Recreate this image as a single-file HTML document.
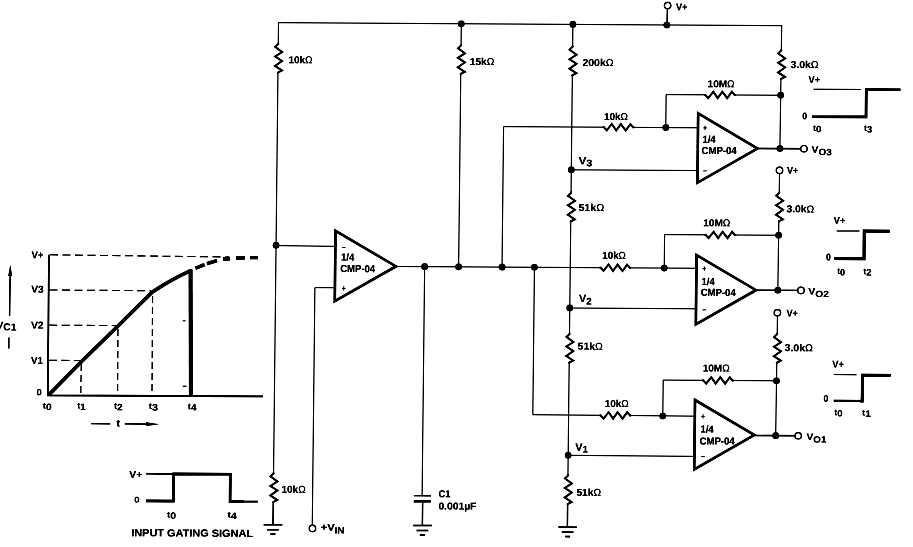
<!DOCTYPE html>
<html lang="en">
<head>
<meta charset="utf-8">
<title>Voltage level detector timing circuit (CMP-04)</title>
<style>
html,body{margin:0;padding:0;background:#fff;}
body{width:913px;height:547px;overflow:hidden;}
svg{display:block;}
text{font-family:"Liberation Sans",sans-serif;fill:#111;stroke:none;}
</style>
</head>
<body>
<svg width="913" height="547" viewBox="0 0 913 547">
<rect width="913" height="547" fill="#fff"/>
<defs><filter id="scan" x="0" y="0" width="913" height="547" filterUnits="userSpaceOnUse" color-interpolation-filters="sRGB"><feGaussianBlur stdDeviation="0.5"/><feComponentTransfer><feFuncR type="linear" slope="1.7" intercept="-0.7"/><feFuncG type="linear" slope="1.7" intercept="-0.7"/><feFuncB type="linear" slope="1.7" intercept="-0.7"/></feComponentTransfer></filter></defs>
<g filter="url(#scan)"><rect width="913" height="547" fill="#fff"/>
<g transform="matrix(1 0.006 -0.011 1 2.970 -2.700)" fill="none" stroke="#111">
<g>
<line x1="275.20" y1="23.70" x2="779.50" y2="23.70" stroke-width="0.85" stroke-linecap="butt"/>
<line x1="275.80" y1="23.70" x2="275.80" y2="45.00" stroke-width="0.85" stroke-linecap="butt"/>
<polyline points="275.80,44.00 275.80,45.00 272.80,48.00 279.80,53.00 272.80,57.50 279.80,62.00 272.80,67.00 279.80,71.50 275.80,73.50 275.80,74.50" stroke-width="1.8" stroke-linejoin="miter" stroke-linecap="butt" />
<line x1="275.80" y1="74.50" x2="275.80" y2="474.50" stroke-width="0.85" stroke-linecap="butt"/>
<polyline points="275.80,473.50 275.80,474.50 272.80,477.50 279.80,482.50 272.80,487.00 279.80,491.50 272.80,496.50 279.80,501.00 275.80,503.00 275.80,504.00" stroke-width="1.8" stroke-linejoin="miter" stroke-linecap="butt" />
<line x1="275.80" y1="504.00" x2="275.80" y2="525.80" stroke-width="1.3" stroke-linecap="butt"/>
<line x1="266.50" y1="525.80" x2="285.10" y2="525.80" stroke-width="1.5" stroke-linecap="butt"/>
<line x1="270.00" y1="530.80" x2="281.60" y2="530.80" stroke-width="1.5" stroke-linecap="butt"/>
<line x1="273.30" y1="535.20" x2="278.30" y2="535.20" stroke-width="1.7" stroke-linecap="butt"/>
<line x1="275.80" y1="246.60" x2="335.50" y2="247.10" stroke-width="0.85" stroke-linecap="butt"/>
<circle cx="275.80" cy="246.30" r="3.3" fill="#111" stroke="none"/>
<polygon points="333.90,229.50 398.40,266.70 333.90,303.90" fill="#111" stroke="none"/>
<polygon points="336.35,233.74 393.50,266.70 336.35,299.66" fill="#fff" stroke="none"/>
<line x1="396.00" y1="266.80" x2="602.00" y2="266.80" stroke-width="0.85" stroke-linecap="butt"/>
<polyline points="599.50,266.80 600.50,266.80 603.50,270.00 608.50,263.60 613.00,270.00 617.50,263.60 622.50,270.00 627.00,263.60 630.00,266.80 631.00,266.80" stroke-width="1.8" stroke-linejoin="miter" stroke-linecap="butt" />
<line x1="631.00" y1="266.80" x2="696.00" y2="266.80" stroke-width="0.85" stroke-linecap="butt"/>
<polyline points="335.50,288.40 315.10,288.40 315.10,526.30" stroke-width="0.85" stroke-linejoin="miter" stroke-linecap="butt" />
<circle cx="315.30" cy="529.20" r="3.2" fill="#fff" stroke-width="1.2"/>
<circle cx="424.60" cy="266.80" r="3.3" fill="#111" stroke="none"/>
<line x1="424.60" y1="266.80" x2="424.60" y2="495.50" stroke-width="0.85" stroke-linecap="butt"/>
<line x1="416.40" y1="495.80" x2="433.30" y2="495.80" stroke-width="1.4" stroke-linecap="butt"/>
<line x1="416.40" y1="501.40" x2="433.30" y2="501.40" stroke-width="2.5" stroke-linecap="butt"/>
<line x1="425.20" y1="500.90" x2="425.20" y2="525.60" stroke-width="1.3" stroke-linecap="butt"/>
<line x1="416.00" y1="525.60" x2="434.60" y2="525.60" stroke-width="1.5" stroke-linecap="butt"/>
<line x1="419.50" y1="530.60" x2="431.10" y2="530.60" stroke-width="1.5" stroke-linecap="butt"/>
<line x1="422.80" y1="535.00" x2="427.80" y2="535.00" stroke-width="1.7" stroke-linecap="butt"/>
<circle cx="458.60" cy="23.70" r="3.3" fill="#111" stroke="none"/>
<line x1="458.60" y1="23.70" x2="458.60" y2="45.30" stroke-width="0.85" stroke-linecap="butt"/>
<polyline points="458.60,44.30 458.60,45.30 455.60,48.30 462.60,53.30 455.60,57.80 462.60,62.30 455.60,67.30 462.60,71.80 458.60,73.80 458.60,74.80" stroke-width="1.8" stroke-linejoin="miter" stroke-linecap="butt" />
<line x1="458.60" y1="74.30" x2="458.60" y2="266.80" stroke-width="0.85" stroke-linecap="butt"/>
<circle cx="458.60" cy="266.80" r="3.3" fill="#111" stroke="none"/>
<circle cx="570.20" cy="23.70" r="3.3" fill="#111" stroke="none"/>
<line x1="570.20" y1="23.70" x2="570.20" y2="46.00" stroke-width="0.85" stroke-linecap="butt"/>
<polyline points="570.20,45.00 570.20,46.00 567.20,49.00 574.20,54.00 567.20,58.50 574.20,63.00 567.20,68.00 574.20,72.50 570.20,74.50 570.20,75.50" stroke-width="1.8" stroke-linejoin="miter" stroke-linecap="butt" />
<line x1="570.20" y1="75.00" x2="570.20" y2="192.10" stroke-width="0.85" stroke-linecap="butt"/>
<polyline points="570.20,191.10 570.20,192.10 567.20,195.10 574.20,200.10 567.20,204.60 574.20,209.10 567.20,214.10 574.20,218.60 570.20,220.60 570.20,221.60" stroke-width="1.8" stroke-linejoin="miter" stroke-linecap="butt" />
<line x1="570.20" y1="221.00" x2="570.20" y2="333.30" stroke-width="0.85" stroke-linecap="butt"/>
<polyline points="570.20,332.30 570.20,333.30 567.20,336.30 574.20,341.30 567.20,345.80 574.20,350.30 567.20,355.30 574.20,359.80 570.20,361.80 570.20,362.80" stroke-width="1.8" stroke-linejoin="miter" stroke-linecap="butt" />
<line x1="570.20" y1="362.00" x2="570.20" y2="474.80" stroke-width="0.85" stroke-linecap="butt"/>
<polyline points="570.20,473.80 570.20,474.80 567.20,477.80 574.20,482.80 567.20,487.30 574.20,491.80 567.20,496.80 574.20,501.30 570.20,503.30 570.20,504.30" stroke-width="1.8" stroke-linejoin="miter" stroke-linecap="butt" />
<line x1="570.20" y1="504.00" x2="570.20" y2="526.40" stroke-width="1.3" stroke-linecap="butt"/>
<line x1="561.20" y1="526.40" x2="579.80" y2="526.40" stroke-width="1.5" stroke-linecap="butt"/>
<line x1="564.70" y1="531.40" x2="576.30" y2="531.40" stroke-width="1.5" stroke-linecap="butt"/>
<line x1="568.00" y1="535.80" x2="573.00" y2="535.80" stroke-width="1.7" stroke-linecap="butt"/>
<circle cx="570.20" cy="169.10" r="3.3" fill="#111" stroke="none"/>
<circle cx="570.20" cy="307.20" r="3.3" fill="#111" stroke="none"/>
<circle cx="570.20" cy="454.60" r="3.3" fill="#111" stroke="none"/>
<line x1="570.20" y1="169.10" x2="696.00" y2="169.10" stroke-width="0.85" stroke-linecap="butt"/>
<line x1="570.20" y1="307.30" x2="696.00" y2="307.30" stroke-width="0.85" stroke-linecap="butt"/>
<line x1="570.20" y1="454.60" x2="696.00" y2="454.90" stroke-width="0.85" stroke-linecap="butt"/>
<circle cx="502.00" cy="266.80" r="3.3" fill="#111" stroke="none"/>
<circle cx="534.40" cy="266.80" r="3.3" fill="#111" stroke="none"/>
<polyline points="502.00,266.80 502.00,126.30 603.00,126.30" stroke-width="0.85" stroke-linejoin="miter" stroke-linecap="butt" />
<polyline points="601.20,126.30 602.20,126.30 605.20,129.50 610.20,123.10 614.70,129.50 619.20,123.10 624.20,129.50 628.70,123.10 631.70,126.30 632.70,126.30" stroke-width="1.8" stroke-linejoin="miter" stroke-linecap="butt" />
<line x1="632.00" y1="126.30" x2="696.00" y2="126.30" stroke-width="0.85" stroke-linecap="butt"/>
<polyline points="534.40,266.80 534.40,414.20 603.00,414.40" stroke-width="0.85" stroke-linejoin="miter" stroke-linecap="butt" />
<polyline points="601.20,414.40 602.20,414.40 605.20,417.60 610.20,411.20 614.70,417.60 619.20,411.20 624.20,417.60 628.70,411.20 631.70,414.40 632.70,414.40" stroke-width="1.8" stroke-linejoin="miter" stroke-linecap="butt" />
<line x1="632.00" y1="414.40" x2="696.00" y2="414.70" stroke-width="0.85" stroke-linecap="butt"/>
<line x1="664.50" y1="7.00" x2="664.20" y2="23.70" stroke-width="1.15" stroke-linecap="butt"/>
<circle cx="664.70" cy="4.30" r="3.2" fill="#fff" stroke-width="1.2"/>
<circle cx="664.20" cy="23.70" r="3.3" fill="#111" stroke="none"/>
<polygon points="695.20,109.80 758.60,146.60 695.20,183.40" fill="#111" stroke="none"/>
<polygon points="697.65,114.05 753.72,146.60 697.65,179.15" fill="#fff" stroke="none"/>
<polyline points="664.20,126.30 664.20,93.30 704.30,93.30" stroke-width="0.85" stroke-linejoin="miter" stroke-linecap="butt" />
<polyline points="702.30,93.30 703.30,93.30 706.30,96.50 711.30,90.10 715.80,96.50 720.30,90.10 725.30,96.50 729.80,90.10 732.80,93.30 733.80,93.30" stroke-width="1.8" stroke-linejoin="miter" stroke-linecap="butt" />
<line x1="734.00" y1="93.30" x2="778.75" y2="93.30" stroke-width="0.85" stroke-linecap="butt"/>
<circle cx="664.20" cy="126.30" r="3.3" fill="#111" stroke="none"/>
<circle cx="778.75" cy="93.30" r="3.3" fill="#111" stroke="none"/>
<line x1="779.00" y1="23.70" x2="778.91" y2="48.40" stroke-width="0.85" stroke-linecap="butt"/>
<polyline points="778.86,47.40 778.86,48.40 775.86,51.40 782.86,56.40 775.86,60.90 782.86,65.40 775.86,70.40 782.86,74.90 778.86,76.90 778.86,77.90" stroke-width="1.8" stroke-linejoin="miter" stroke-linecap="butt" />
<line x1="778.81" y1="77.40" x2="778.55" y2="146.60" stroke-width="0.85" stroke-linecap="butt"/>
<line x1="757.00" y1="146.60" x2="800.10" y2="146.60" stroke-width="1.4" stroke-linecap="butt"/>
<circle cx="778.55" cy="146.60" r="3.3" fill="#111" stroke="none"/>
<circle cx="802.60" cy="146.60" r="3.2" fill="#fff" stroke-width="1.2"/>
<polygon points="695.20,251.50 758.60,288.30 695.20,325.10" fill="#111" stroke="none"/>
<polygon points="697.65,255.75 753.72,288.30 697.65,320.85" fill="#fff" stroke="none"/>
<polyline points="664.20,266.80 664.20,233.30 706.20,233.30" stroke-width="0.85" stroke-linejoin="miter" stroke-linecap="butt" />
<polyline points="704.20,233.30 705.20,233.30 708.20,236.50 713.20,230.10 717.70,236.50 722.20,230.10 727.20,236.50 731.70,230.10 734.70,233.30 735.70,233.30" stroke-width="1.8" stroke-linejoin="miter" stroke-linecap="butt" />
<line x1="734.00" y1="233.30" x2="778.24" y2="233.30" stroke-width="0.85" stroke-linecap="butt"/>
<circle cx="664.20" cy="266.80" r="3.3" fill="#111" stroke="none"/>
<circle cx="778.24" cy="233.30" r="3.3" fill="#111" stroke="none"/>
<line x1="778.46" y1="171.50" x2="778.39" y2="190.80" stroke-width="0.85" stroke-linecap="butt"/>
<polyline points="778.34,189.80 778.34,190.80 775.34,193.80 782.34,198.80 775.34,203.30 782.34,207.80 775.34,212.80 782.34,217.30 778.34,219.30 778.34,220.30" stroke-width="1.8" stroke-linejoin="miter" stroke-linecap="butt" />
<line x1="778.29" y1="219.80" x2="778.04" y2="288.30" stroke-width="0.85" stroke-linecap="butt"/>
<line x1="757.00" y1="288.30" x2="798.70" y2="288.30" stroke-width="1.4" stroke-linecap="butt"/>
<circle cx="778.04" cy="288.30" r="3.3" fill="#111" stroke="none"/>
<circle cx="801.20" cy="288.30" r="3.2" fill="#fff" stroke-width="1.2"/>
<circle cx="778.37" cy="168.40" r="3.2" fill="#fff" stroke-width="1.2"/>
<polygon points="695.20,396.40 758.60,433.20 695.20,470.00" fill="#111" stroke="none"/>
<polygon points="697.65,400.65 753.72,433.20 697.65,465.75" fill="#fff" stroke="none"/>
<polyline points="664.40,414.70 664.40,378.80 705.40,378.80" stroke-width="0.85" stroke-linejoin="miter" stroke-linecap="butt" />
<polyline points="703.40,378.80 704.40,378.80 707.40,382.00 712.40,375.60 716.90,382.00 721.40,375.60 726.40,382.00 730.90,375.60 733.90,378.80 734.90,378.80" stroke-width="1.8" stroke-linejoin="miter" stroke-linecap="butt" />
<line x1="734.00" y1="378.80" x2="777.70" y2="378.80" stroke-width="0.85" stroke-linecap="butt"/>
<circle cx="664.40" cy="414.70" r="3.3" fill="#111" stroke="none"/>
<circle cx="777.70" cy="378.80" r="3.3" fill="#111" stroke="none"/>
<line x1="777.94" y1="314.00" x2="777.88" y2="332.20" stroke-width="0.85" stroke-linecap="butt"/>
<polyline points="777.82,331.20 777.82,332.20 774.82,335.20 781.82,340.20 774.82,344.70 781.82,349.20 774.82,354.20 781.82,358.70 777.82,360.70 777.82,361.70" stroke-width="1.8" stroke-linejoin="miter" stroke-linecap="butt" />
<line x1="777.77" y1="361.20" x2="777.50" y2="433.70" stroke-width="0.85" stroke-linecap="butt"/>
<line x1="757.00" y1="433.70" x2="797.50" y2="433.70" stroke-width="1.4" stroke-linecap="butt"/>
<circle cx="777.50" cy="433.70" r="3.3" fill="#111" stroke="none"/>
<circle cx="800.00" cy="433.70" r="3.2" fill="#fff" stroke-width="1.2"/>
<circle cx="777.85" cy="310.80" r="3.2" fill="#fff" stroke-width="1.2"/>
</g>
<g>
<polyline points="48.83,257.11 49.18,397.81 264.39,397.52" stroke-width="1.6" stroke-linejoin="miter" stroke-linecap="butt" />
<line x1="49.83" y1="257.20" x2="228.86" y2="258.33" stroke-width="1.05" stroke-dasharray="8 4.5"/>
<line x1="49.72" y1="292.40" x2="151.23" y2="292.49" stroke-width="1.05" stroke-dasharray="8 4.5"/>
<line x1="49.91" y1="327.50" x2="117.61" y2="327.60" stroke-width="1.05" stroke-dasharray="8 4.5"/>
<line x1="49.99" y1="362.71" x2="81.00" y2="362.72" stroke-width="1.05" stroke-dasharray="8 4.5"/>
<line x1="82.33" y1="366.21" x2="82.16" y2="396.22" stroke-width="1.05" stroke-dasharray="7 4"/>
<line x1="118.65" y1="330.99" x2="118.96" y2="395.99" stroke-width="1.05" stroke-dasharray="7 4"/>
<line x1="152.89" y1="297.78" x2="153.36" y2="395.79" stroke-width="1.05" stroke-dasharray="7 4"/>
<polyline points="50.77,396.60 83.10,363.21 119.11,327.49 140.57,305.86 152.64,293.79 165.15,285.71 178.07,278.43 190.31,272.36" stroke-width="3.5" stroke-linejoin="round" stroke-linecap="round"/>
<line x1="190.59" y1="271.06" x2="192.28" y2="396.55" stroke-width="3.8" stroke-linecap="butt"/>
<polyline points="195.48,269.83 204.44,266.07" stroke-width="3.4"/>
<polyline points="206.93,265.06 216.90,261.90" stroke-width="3.4"/>
<polyline points="222.88,260.36 229.87,259.92" stroke-width="3.6"/>
<polyline points="235.87,259.28 244.87,259.03" stroke-width="3.4"/>
<polyline points="249.86,258.90 257.86,258.75" stroke-width="3.2"/>
<line x1="10.24" y1="276.64" x2="10.11" y2="318.64" stroke-width="1.3" stroke-linecap="butt"/>
<polygon points="10.25,267.64 8.35,278.64 12.15,278.64" fill="#111" stroke="none"/>
<line x1="9.64" y1="340.15" x2="9.66" y2="351.15" stroke-width="1.3" stroke-linecap="butt"/>
<line x1="184.08" y1="387.90" x2="187.68" y2="387.88" stroke-width="1.0" stroke-linecap="butt"/>
<line x1="183.36" y1="322.40" x2="186.16" y2="322.39" stroke-width="0.8" stroke-linecap="butt"/>
<line x1="92.99" y1="425.85" x2="111.89" y2="425.84" stroke-width="1.3" stroke-linecap="butt"/>
<line x1="126.49" y1="425.85" x2="151.70" y2="425.90" stroke-width="1.3" stroke-linecap="butt"/>
<polygon points="160.70,425.95 147.70,424.05 147.70,427.85" fill="#111" stroke="none"/>
<line x1="148.44" y1="475.72" x2="174.24" y2="475.67" stroke-width="1.3" stroke-linecap="butt"/>
<polyline points="148.74,502.72 175.94,502.76 175.94,475.56 232.65,475.62 232.65,502.82 246.55,502.84" stroke-width="2.6" stroke-linejoin="miter" stroke-linecap="butt" />
<line x1="245.55" y1="502.84" x2="260.35" y2="502.85" stroke-width="1.8" stroke-linecap="butt"/>
<line x1="811.61" y1="87.12" x2="858.81" y2="86.94" stroke-width="1.0" stroke-linecap="butt"/>
<polyline points="810.31,114.53 864.32,114.40 864.31,87.00 898.42,87.00" stroke-width="2.6" stroke-linejoin="miter" stroke-linecap="butt" />
<line x1="836.37" y1="228.68" x2="859.07" y2="228.64" stroke-width="1.0" stroke-linecap="butt"/>
<polyline points="834.17,256.29 863.88,256.32 863.87,228.51 889.37,228.56" stroke-width="3.0" stroke-linejoin="miter" stroke-linecap="butt" />
<line x1="834.95" y1="372.30" x2="857.65" y2="372.26" stroke-width="1.0" stroke-linecap="butt"/>
<line x1="835.24" y1="398.50" x2="862.64" y2="398.53" stroke-width="2.0" stroke-linecap="butt"/>
<polyline points="861.64,398.54 863.64,398.53 863.66,372.72 891.76,372.76" stroke-width="2.8" stroke-linejoin="miter" stroke-linecap="butt" />
</g>
<g>
<text x="286.23" y="64.17" font-size="10" font-weight="bold" textLength="24.0" lengthAdjust="spacingAndGlyphs" >10k<tspan font-weight="normal">Ω</tspan></text>
<text x="467.55" y="64.88" font-size="10" font-weight="bold" textLength="24.4" lengthAdjust="spacingAndGlyphs" >15k<tspan font-weight="normal">Ω</tspan></text>
<text x="580.26" y="65.20" font-size="10" font-weight="bold" textLength="31.0" lengthAdjust="spacingAndGlyphs" >200k<tspan font-weight="normal">Ω</tspan></text>
<text x="788.38" y="65.96" font-size="10" font-weight="bold" textLength="28.0" lengthAdjust="spacingAndGlyphs" >3.0k<tspan font-weight="normal">Ω</tspan></text>
<text x="705.59" y="85.65" font-size="10" font-weight="bold" textLength="27.0" lengthAdjust="spacingAndGlyphs" >10M<tspan font-weight="normal">Ω</tspan></text>
<text x="602.35" y="119.08" font-size="10" font-weight="bold" textLength="24.0" lengthAdjust="spacingAndGlyphs" >10k<tspan font-weight="normal">Ω</tspan></text>
<text x="785.77" y="210.28" font-size="10" font-weight="bold" textLength="27.7" lengthAdjust="spacingAndGlyphs" >3.0k<tspan font-weight="normal">Ω</tspan></text>
<text x="702.72" y="224.68" font-size="10" font-weight="bold" textLength="27.2" lengthAdjust="spacingAndGlyphs" >10M<tspan font-weight="normal">Ω</tspan></text>
<text x="602.18" y="257.79" font-size="10" font-weight="bold" textLength="23.5" lengthAdjust="spacingAndGlyphs" >10k<tspan font-weight="normal">Ω</tspan></text>
<text x="577.75" y="210.23" font-size="10" font-weight="bold" textLength="25.9" lengthAdjust="spacingAndGlyphs" >51k<tspan font-weight="normal">Ω</tspan></text>
<text x="578.48" y="348.83" font-size="10" font-weight="bold" textLength="25.2" lengthAdjust="spacingAndGlyphs" >51k<tspan font-weight="normal">Ω</tspan></text>
<text x="785.49" y="349.09" font-size="10" font-weight="bold" textLength="28.3" lengthAdjust="spacingAndGlyphs" >3.0k<tspan font-weight="normal">Ω</tspan></text>
<text x="703.82" y="369.88" font-size="10" font-weight="bold" textLength="27.0" lengthAdjust="spacingAndGlyphs" >10M<tspan font-weight="normal">Ω</tspan></text>
<text x="606.31" y="406.07" font-size="10" font-weight="bold" textLength="24.0" lengthAdjust="spacingAndGlyphs" >10k<tspan font-weight="normal">Ω</tspan></text>
<text x="578.88" y="494.94" font-size="10" font-weight="bold" textLength="24.6" lengthAdjust="spacingAndGlyphs" >51k<tspan font-weight="normal">Ω</tspan></text>
<text x="284.05" y="493.71" font-size="10" font-weight="bold" textLength="24.0" lengthAdjust="spacingAndGlyphs" >10k<tspan font-weight="normal">Ω</tspan></text>
<text x="340.90" y="261.25" font-size="10.2" font-weight="bold" textLength="13.2" lengthAdjust="spacingAndGlyphs" >1/4</text>
<text x="340.22" y="272.66" font-size="10.2" font-weight="bold" textLength="35.0" lengthAdjust="spacingAndGlyphs" >CMP-04</text>
<text x="341.47" y="250.05" font-size="8" font-weight="bold" textLength="4.0" lengthAdjust="spacingAndGlyphs" >–</text>
<text x="341.93" y="291.65" font-size="8" font-weight="bold" textLength="4.0" lengthAdjust="spacingAndGlyphs" >+</text>
<text x="701.00" y="141.29" font-size="10.2" font-weight="bold" textLength="13.2" lengthAdjust="spacingAndGlyphs" >1/4</text>
<text x="700.32" y="152.39" font-size="10.2" font-weight="bold" textLength="35.0" lengthAdjust="spacingAndGlyphs" >CMP-04</text>
<text x="701.57" y="129.08" font-size="8" font-weight="bold" textLength="4.0" lengthAdjust="spacingAndGlyphs" >+</text>
<text x="702.03" y="171.48" font-size="8" font-weight="bold" textLength="4.0" lengthAdjust="spacingAndGlyphs" >–</text>
<text x="701.66" y="283.39" font-size="10.2" font-weight="bold" textLength="13.2" lengthAdjust="spacingAndGlyphs" >1/4</text>
<text x="700.98" y="294.30" font-size="10.2" font-weight="bold" textLength="35.0" lengthAdjust="spacingAndGlyphs" >CMP-04</text>
<text x="702.21" y="269.79" font-size="8" font-weight="bold" textLength="4.0" lengthAdjust="spacingAndGlyphs" >+</text>
<text x="702.66" y="310.49" font-size="8" font-weight="bold" textLength="4.0" lengthAdjust="spacingAndGlyphs" >–</text>
<text x="702.19" y="431.10" font-size="10.2" font-weight="bold" textLength="13.2" lengthAdjust="spacingAndGlyphs" >1/4</text>
<text x="701.52" y="442.90" font-size="10.2" font-weight="bold" textLength="35.0" lengthAdjust="spacingAndGlyphs" >CMP-04</text>
<text x="702.74" y="417.49" font-size="8" font-weight="bold" textLength="4.0" lengthAdjust="spacingAndGlyphs" >+</text>
<text x="703.17" y="457.09" font-size="8" font-weight="bold" textLength="4.0" lengthAdjust="spacingAndGlyphs" >–</text>
<text x="673.14" y="8.84" font-size="10" font-weight="bold" textLength="11.4" lengthAdjust="spacingAndGlyphs" >V+</text>
<text x="786.04" y="171.78" font-size="10" font-weight="bold" textLength="11.2" lengthAdjust="spacingAndGlyphs" >V+</text>
<text x="786.91" y="314.58" font-size="10" font-weight="bold" textLength="11.4" lengthAdjust="spacingAndGlyphs" >V+</text>
<text x="806.54" y="80.85" font-size="10" font-weight="bold" textLength="11.4" lengthAdjust="spacingAndGlyphs" >V+</text>
<text x="833.29" y="221.40" font-size="10" font-weight="bold" textLength="11.4" lengthAdjust="spacingAndGlyphs" >V+</text>
<text x="833.37" y="365.21" font-size="10" font-weight="bold" textLength="11.6" lengthAdjust="spacingAndGlyphs" >V+</text>
<text x="31.37" y="260.81" font-size="10" font-weight="bold" textLength="11.9" lengthAdjust="spacingAndGlyphs" >V+</text>
<text x="131.59" y="479.72" font-size="10" font-weight="bold" textLength="12.9" lengthAdjust="spacingAndGlyphs" >V+</text>
<text x="577.24" y="163.53" font-size="10.5" font-weight="bold" textLength="13.8" lengthAdjust="spacingAndGlyphs" >V<tspan dy="1.8" font-size="9.5">3</tspan></text>
<text x="579.45" y="301.33" font-size="10.5" font-weight="bold" textLength="12.6" lengthAdjust="spacingAndGlyphs" >V<tspan dy="2.4" font-size="9.5">2</tspan></text>
<text x="577.29" y="449.95" font-size="10.5" font-weight="bold" textLength="12.7" lengthAdjust="spacingAndGlyphs" >V<tspan dy="1.8" font-size="9.5">1</tspan></text>
<text x="810.31" y="150.53" font-size="9.4" font-weight="bold" textLength="20.2" lengthAdjust="spacingAndGlyphs" >V<tspan dy="2.4" font-size="9.0">O3</tspan></text>
<text x="808.57" y="292.35" font-size="9.4" font-weight="bold" textLength="20.5" lengthAdjust="spacingAndGlyphs" >V<tspan dy="2.4" font-size="9.0">O2</tspan></text>
<text x="808.47" y="437.96" font-size="9.4" font-weight="bold" textLength="19.7" lengthAdjust="spacingAndGlyphs" >V<tspan dy="2.4" font-size="9.0">O1</tspan></text>
<text x="323.57" y="531.38" font-size="10" font-weight="bold" textLength="23.9" lengthAdjust="spacingAndGlyphs" >+V<tspan dy="2.9" font-size="9">IN</tspan></text>
<text x="441.10" y="497.27" font-size="10" font-weight="bold" textLength="11.9" lengthAdjust="spacingAndGlyphs" >C1</text>
<text x="441.03" y="509.47" font-size="10" font-weight="bold" textLength="38.0" lengthAdjust="spacingAndGlyphs" >0.001µF</text>
<text x="31.45" y="295.11" font-size="10" font-weight="bold" textLength="12.4" lengthAdjust="spacingAndGlyphs" >V3</text>
<text x="31.64" y="331.01" font-size="10" font-weight="bold" textLength="12.6" lengthAdjust="spacingAndGlyphs" >V2</text>
<text x="32.03" y="366.31" font-size="10" font-weight="bold" textLength="11.8" lengthAdjust="spacingAndGlyphs" >V1</text>
<text x="37.98" y="397.68" font-size="9" font-weight="bold" textLength="5.2" lengthAdjust="spacingAndGlyphs" >0</text>
<text x="-2.76" y="331.32" font-size="10" font-weight="bold" textLength="19.8" lengthAdjust="spacingAndGlyphs" >V<tspan dy="1.7" font-size="10">C1</tspan></text>
<text x="44.42" y="411.04" font-size="8.6" font-weight="bold" textLength="8.8" lengthAdjust="spacingAndGlyphs" >t<tspan dy="1.4" font-size="9.2">0</tspan></text>
<text x="78.92" y="410.84" font-size="8.6" font-weight="bold" textLength="8.4" lengthAdjust="spacingAndGlyphs" >t<tspan dy="1.4" font-size="9.2">1</tspan></text>
<text x="115.53" y="410.82" font-size="8.6" font-weight="bold" textLength="8.8" lengthAdjust="spacingAndGlyphs" >t<tspan dy="1.4" font-size="9.2">2</tspan></text>
<text x="150.33" y="410.81" font-size="8.6" font-weight="bold" textLength="9.3" lengthAdjust="spacingAndGlyphs" >t<tspan dy="1.4" font-size="9.2">3</tspan></text>
<text x="189.43" y="410.77" font-size="8.6" font-weight="bold" textLength="8.5" lengthAdjust="spacingAndGlyphs" >t<tspan dy="1.4" font-size="9.2">4</tspan></text>
<text x="118.22" y="428.60" font-size="10" font-weight="bold" textLength="3.5" lengthAdjust="spacingAndGlyphs" >t</text>
<text x="136.86" y="504.39" font-size="8.2" font-weight="bold" textLength="5.3" lengthAdjust="spacingAndGlyphs" >0</text>
<text x="169.72" y="519.10" font-size="8.6" font-weight="bold" textLength="9.0" lengthAdjust="spacingAndGlyphs" >t<tspan dy="1.4" font-size="9.2">0</tspan></text>
<text x="230.12" y="518.94" font-size="8.6" font-weight="bold" textLength="9.4" lengthAdjust="spacingAndGlyphs" >t<tspan dy="1.4" font-size="9.2">4</tspan></text>
<text x="134.13" y="538.11" font-size="10.3" font-weight="bold" textLength="121.8" lengthAdjust="spacingAndGlyphs" >INPUT GATING SIGNAL</text>
<text x="800.54" y="117.19" font-size="9.6" font-weight="bold" textLength="4.8" lengthAdjust="spacingAndGlyphs" >0</text>
<text x="811.47" y="128.72" font-size="8.6" font-weight="bold" textLength="8.4" lengthAdjust="spacingAndGlyphs" >t<tspan dy="1.4" font-size="9.2">0</tspan></text>
<text x="862.47" y="128.62" font-size="8.6" font-weight="bold" textLength="8.0" lengthAdjust="spacingAndGlyphs" >t<tspan dy="1.4" font-size="9.2">3</tspan></text>
<text x="825.90" y="258.24" font-size="10" font-weight="bold" textLength="4.8" lengthAdjust="spacingAndGlyphs" >0</text>
<text x="837.24" y="271.68" font-size="8.6" font-weight="bold" textLength="7.8" lengthAdjust="spacingAndGlyphs" >t<tspan dy="1.4" font-size="9.2">0</tspan></text>
<text x="863.35" y="271.72" font-size="8.6" font-weight="bold" textLength="8.3" lengthAdjust="spacingAndGlyphs" >t<tspan dy="1.4" font-size="9.2">2</tspan></text>
<text x="825.05" y="399.56" font-size="9.6" font-weight="bold" textLength="4.8" lengthAdjust="spacingAndGlyphs" >0</text>
<text x="835.90" y="412.89" font-size="8.6" font-weight="bold" textLength="8.3" lengthAdjust="spacingAndGlyphs" >t<tspan dy="1.4" font-size="9.2">0</tspan></text>
<text x="863.60" y="412.93" font-size="8.6" font-weight="bold" textLength="8.9" lengthAdjust="spacingAndGlyphs" >t<tspan dy="1.4" font-size="9.2">1</tspan></text>
</g>
</g>
</g>
</svg>
</body>
</html>
